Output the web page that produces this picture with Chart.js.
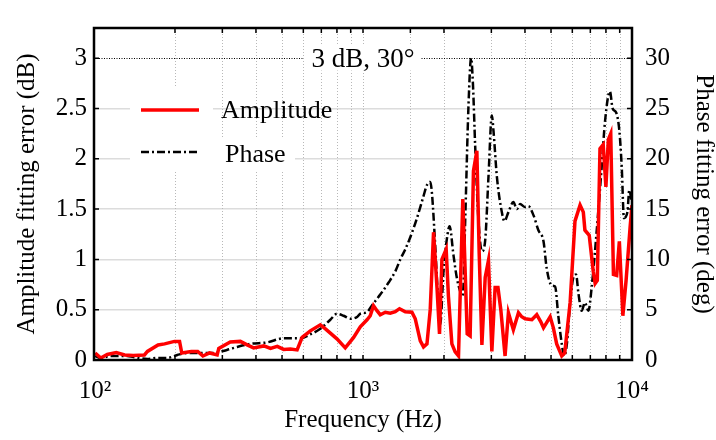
<!DOCTYPE html>
<html>
<head>
<meta charset="utf-8">
<script src="https://cdn.jsdelivr.net/npm/chart.js@4.4.1/dist/chart.umd.min.js"></script>
<style>
html, body { margin: 0; padding: 0; background: #fff; }
</style>
</head>
<body>
<canvas id="fitChart" width="716" height="440"></canvas>
<script>
// amplitude fitting error (dB) vs frequency (Hz)
var ampFreq = [101, 106, 112, 121, 130, 140, 154, 158, 173, 183, 199, 208, 212, 230, 243, 254, 269, 287, 291, 321,
    350, 371, 392, 428, 453, 480, 507, 537, 569, 594, 637, 694, 725, 800, 859, 923, 977, 1035, 1064, 1094,
    1127, 1159, 1210, 1263, 1318, 1367, 1436, 1520, 1564, 1633, 1679, 1729, 1778, 1829, 1884, 1925, 1965, 2038, 2078, 2140,
    2201, 2265, 2350, 2440, 2502, 2574, 2650, 2703, 2767, 2846, 2927, 3013, 3098, 3175, 3253, 3374, 3472, 3622, 3784, 3891,
    4006, 4244, 4426, 4581, 4688, 4963, 5101, 5248, 5482, 5623, 5888, 6138, 6412, 6592, 6683, 6934, 7178, 7295, 7430, 7603,
    7816, 7998, 8166, 8337, 8531, 8770, 8974, 9247, 9506, 9840, 10000];
var ampDb = [0.07, 0.02, 0.055, 0.075, 0.05, 0.045, 0.05, 0.085, 0.15, 0.16, 0.185, 0.185, 0.07, 0.085, 0.085, 0.04, 0.07, 0.05, 0.115, 0.18,
    0.185, 0.15, 0.12, 0.14, 0.115, 0.135, 0.105, 0.11, 0.10, 0.225, 0.29, 0.35, 0.31, 0.21, 0.12, 0.225, 0.33, 0.40, 0.44, 0.54,
    0.49, 0.45, 0.475, 0.465, 0.48, 0.51, 0.48, 0.475, 0.41, 0.19, 0.13, 0.16, 0.5, 1.27, 0.72, 0.26, 1.0, 1.10, 0.63, 0.16,
    0.08, 0.04, 1.6, 0.26, 0.24, 1.88, 2.08, 1.07, 0.15, 0.82, 0.99, 0.085, 0.72, 0.72, 0.5, 0.04, 0.47, 0.3, 0.47, 0.43,
    0.41, 0.40, 0.45, 0.38, 0.32, 0.43, 0.32, 0.16, 0.04, 0.07, 0.57, 1.38, 1.54, 1.47, 1.29, 1.24, 0.88, 0.76, 0.79, 2.10,
    2.14, 1.72, 2.19, 2.25, 0.85, 0.84, 1.18, 0.44, 0.79, 1.32, 1.54];

// phase fitting error (deg) vs frequency (Hz)
var phaseFreq = [101, 106, 115, 133, 140, 158, 172, 187, 204, 222, 249, 278, 312, 341, 381, 440, 507, 585, 637, 694,
    756, 800, 847, 900, 953, 977, 1035, 1078, 1159, 1245, 1318, 1376, 1436, 1499, 1587, 1679, 1729, 1778, 1804, 1856,
    1899, 1936, 1992, 2062, 2098, 2170, 2239, 2350, 2398, 2467, 2523, 2562, 2612, 2688, 2767, 2846, 2927, 3013, 3055, 3146,
    3282, 3356, 3472, 3622, 3733, 3838, 4006, 4120, 4301, 4488, 4688, 4819, 5032, 5176, 5321, 5482, 5597, 5727, 5888, 6053,
    6194, 6324, 6501, 6683, 6886, 7079, 7396, 7709, 7943, 8279, 8472, 8730, 8974, 9162, 9333, 9616, 9772, 9977];
var phaseDeg = [0.4, 0.2, 0.4, 0.4, 0.3, 0.1, 0.2, 0.2, 0.5, 0.7, 0.7, 0.7, 1.0, 1.3, 1.6, 1.75, 2.15, 2.15, 2.55, 3.1,
    4.0, 4.6, 4.4, 4.1, 4.3, 4.6, 4.75, 5.4, 6.5, 7.7, 8.8, 10.0, 11.0, 12.2, 14.1, 16.3, 17.4, 17.7, 16.6, 11.3,
    6.3, 3.5, 8.8, 12.5, 13.3, 10.4, 8.0, 6.4, 13.8, 25.3, 30.0, 27.5, 21.3, 13.8, 10.8, 11.9, 18.2, 24.3, 22.8, 18.2,
    14.7, 13.8, 14.7, 15.7, 15.0, 15.5, 15.2, 15.3, 14.4, 12.9, 11.8, 9.1, 7.4, 7.3, 4.4, 1.6, 0.4, 1.6, 5.7, 8.2,
    8.5, 6.6, 4.9, 5.7, 4.9, 7.2, 12.9, 19.1, 23.8, 26.7, 25.0, 24.6, 22.8, 19.1, 14.1, 14.7, 16.9, 15.7];

var xTickValues = [100, 1000, 10000];
var xTickLabels = ['\u200a10\u00b2', '10\u00b3', '10\u2074'];
var seriesNames = ['Amplitude', 'Phase'];
var limitText = '3 dB, 30\u00b0';
var limitDb = 3;

var serif = "'Liberation Serif', 'Times New Roman', serif";
var phaseDash = [8, 3, 2, 3];

function toPoints(xs, ys) {
    var pts = [];
    for (var i = 0; i < xs.length; i++) {
        pts.push({x: xs[i], y: ys[i]});
    }
    return pts;
}

// grid, border, inward ticks, limit line and legend
var decorPlugin = {
    id: 'decor',
    beforeDatasetsDraw: function (chart) {
        var ctx = chart.ctx;
        var a = chart.chartArea;
        var xs = chart.scales.x;
        var yl = chart.scales.y;
        ctx.save();

        // dotted vertical grid
        ctx.strokeStyle = '#b8b8b8';
        ctx.lineWidth = 1;
        ctx.setLineDash([1, 2]);
        xs.ticks.forEach(function (t) {
            var px = Math.round(xs.getPixelForValue(t.value)) + 0.5;
            if (px < a.left + 3 || px > a.right - 3) return;
            ctx.beginPath();
            ctx.moveTo(px, a.top);
            ctx.lineTo(px, a.bottom);
            ctx.stroke();
        });

        // limit line with its label
        var ly = Math.round(yl.getPixelForValue(limitDb)) + 0.5;
        var cx = xs.getPixelForValue(1000);
        ctx.font = '27px ' + serif;
        var tw = ctx.measureText(limitText).width;
        ctx.strokeStyle = '#000';
        ctx.setLineDash([1, 1.5]);
        ctx.beginPath();
        ctx.moveTo(a.left, ly);
        ctx.lineTo(cx - tw / 2 - 9, ly);
        ctx.moveTo(cx + tw / 2 + 7, ly);
        ctx.lineTo(a.right, ly);
        ctx.stroke();
        ctx.setLineDash([]);
        ctx.fillStyle = '#fff';
        ctx.fillRect(cx - tw / 2 - 4, ly - 14, tw + 8, 26);
        ctx.fillStyle = '#000';
        ctx.textAlign = 'center';
        ctx.textBaseline = 'middle';
        ctx.fillText(limitText, cx, ly + 1);

        // legend
        ctx.fillStyle = '#fff';
        ctx.fillRect(130, 88, 83, 82);
        ctx.fillRect(213, 137, 82, 33);
        ctx.lineWidth = 3.5;
        ctx.strokeStyle = '#ff0000';
        ctx.beginPath();
        ctx.moveTo(141, 110);
        ctx.lineTo(199, 110);
        ctx.stroke();
        ctx.lineWidth = 2.5;
        ctx.strokeStyle = '#000';
        ctx.setLineDash(phaseDash);
        ctx.beginPath();
        ctx.moveTo(141, 152);
        ctx.lineTo(199, 152);
        ctx.stroke();
        ctx.setLineDash([]);
        ctx.fillStyle = '#000';
        ctx.textAlign = 'left';
        ctx.textBaseline = 'alphabetic';
        ctx.font = '26px ' + serif;
        ctx.fillText(seriesNames[0], 221, 118);
        ctx.fillText(seriesNames[1], 225, 162);
        ctx.restore();
    },
    afterDraw: function (chart) {
        var ctx = chart.ctx;
        var a = chart.chartArea;
        var xs = chart.scales.x;
        var yl = chart.scales.y;
        var yr = chart.scales.y2;
        var tl = 5;
        ctx.save();
        ctx.strokeStyle = '#000';
        ctx.lineWidth = 1.5;
        ctx.beginPath();
        xs.ticks.forEach(function (t) {
            var px = xs.getPixelForValue(t.value);
            ctx.moveTo(px, a.bottom);
            ctx.lineTo(px, a.bottom - tl);
            ctx.moveTo(px, a.top);
            ctx.lineTo(px, a.top + tl);
        });
        yl.ticks.forEach(function (t) {
            var py = yl.getPixelForValue(t.value);
            ctx.moveTo(a.left, py);
            ctx.lineTo(a.left + tl, py);
        });
        yr.ticks.forEach(function (t) {
            var py = yr.getPixelForValue(t.value);
            ctx.moveTo(a.right, py);
            ctx.lineTo(a.right - tl, py);
        });
        ctx.stroke();
        ctx.lineWidth = 2.5;
        ctx.strokeRect(a.left, a.top, a.right - a.left, a.bottom - a.top);
        ctx.restore();
    }
};

var ctx = document.getElementById('fitChart');
var chart = new Chart(ctx, {
    type: 'line',
    data: {
        datasets: [{
            label: seriesNames[0],
            data: toPoints(ampFreq, ampDb),
            yAxisID: 'y',
            borderColor: '#ff0000',
            borderWidth: 3.5,
            pointRadius: 0,
            tension: 0,
            fill: false
        }, {
            label: seriesNames[1],
            data: toPoints(phaseFreq, phaseDeg),
            yAxisID: 'y2',
            borderColor: '#000000',
            borderWidth: 2.5,
            borderDash: phaseDash,
            pointRadius: 0,
            cubicInterpolationMode: 'monotone',
            fill: false
        }]
    },
    options: {
        responsive: false,
        animation: false,
        devicePixelRatio: 1,
        layout: {padding: {top: 5, left: 0, right: 0, bottom: 0}},
        plugins: {
            legend: {display: false},
            tooltip: {enabled: false}
        },
        scales: {
            x: {
                type: 'logarithmic',
                min: 100,
                max: 10000,
                afterFit: function (s) { s.height = 80; },
                grid: {display: false, drawTicks: false},
                border: {display: false},
                ticks: {
                    autoSkip: false,
                    maxRotation: 0,
                    padding: 16,
                    color: '#000',
                    font: {family: serif, size: 25},
                    callback: function (v) {
                        var i = xTickValues.indexOf(v);
                        return i >= 0 ? xTickLabels[i] : '';
                    }
                },
                title: {
                    display: true,
                    text: 'Frequency (Hz)',
                    color: '#000',
                    font: {family: serif, size: 25, lineHeight: 1.0},
                    padding: {top: 0, bottom: 7}
                }
            },
            y: {
                position: 'left',
                min: 0,
                max: 3.3,
                afterFit: function (s) { s.width = 94; },
                grid: {
                    drawTicks: false,
                    lineWidth: 1.5,
                    color: function (c) {
                        return (c.tick && (c.tick.value === limitDb || c.tick.value === 0)) ? 'rgba(0,0,0,0)' : '#dcdcdc';
                    }
                },
                border: {display: false},
                ticks: {
                    stepSize: 0.5,
                    includeBounds: false,
                    padding: 7,
                    color: '#000',
                    font: {family: serif, size: 25},
                    callback: function (v) { return String(Math.round(v * 10) / 10); }
                },
                title: {
                    display: true,
                    text: 'Amplitude fitting error (dB)',
                    color: '#000',
                    font: {family: serif, size: 25, lineHeight: 1.0},
                    padding: {top: 15, bottom: 0}
                }
            },
            y2: {
                position: 'right',
                min: 0,
                max: 33,
                afterFit: function (s) { s.width = 84; },
                grid: {display: false, drawTicks: false},
                border: {display: false},
                ticks: {
                    stepSize: 5,
                    includeBounds: false,
                    padding: 13,
                    color: '#000',
                    font: {family: serif, size: 25}
                },
                title: {
                    display: true,
                    text: 'Phase fitting error (deg)',
                    color: '#000',
                    font: {family: serif, size: 25, lineHeight: 1.0},
                    padding: {top: 0, bottom: 0}
                }
            }
        }
    },
    plugins: [decorPlugin]
});
</script>
</body>
</html>
